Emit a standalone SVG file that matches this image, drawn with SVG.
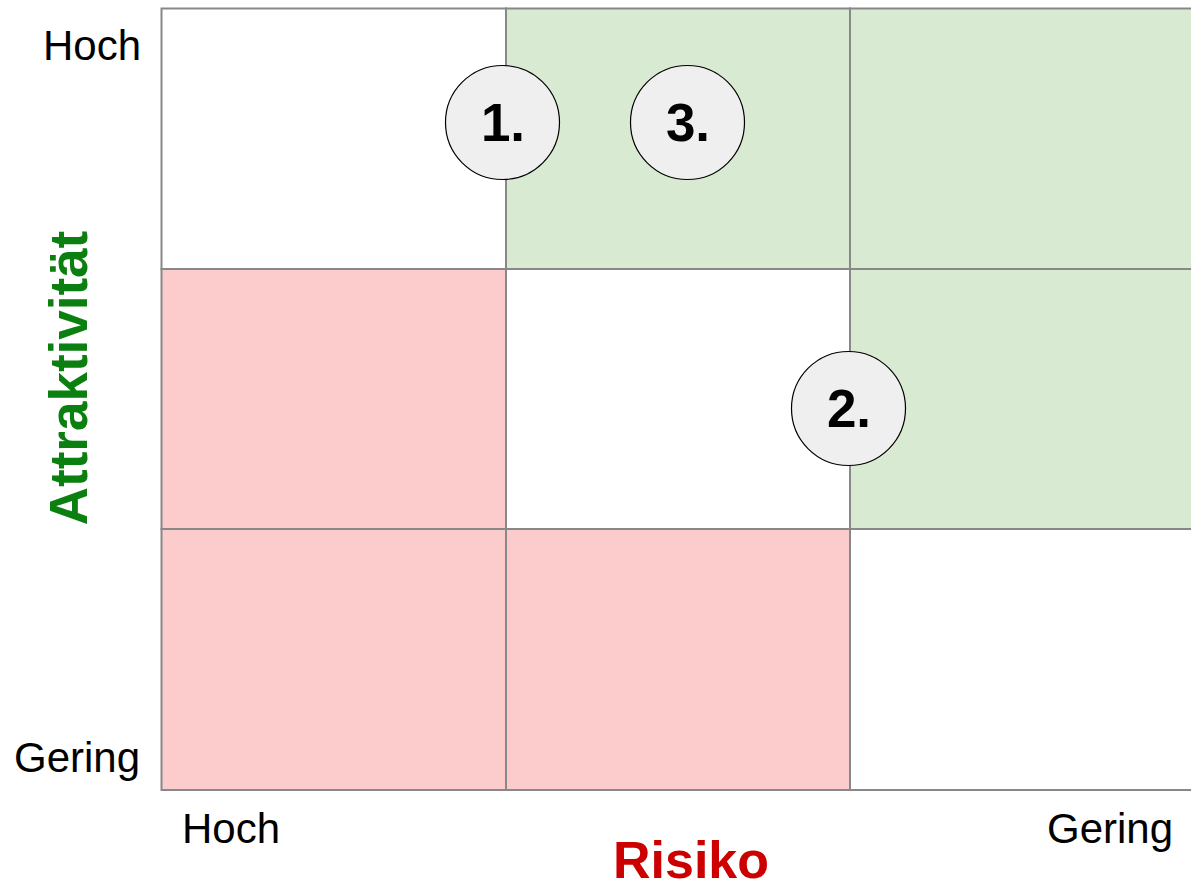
<svg xmlns="http://www.w3.org/2000/svg" width="1191" height="885" viewBox="0 0 1191 885">
<style>
.cell{stroke:#888888;stroke-width:2}
.g{fill:#d9ead3}.r{fill:#fccbcb}.w{fill:#ffffff}
.lbl{font-family:"Liberation Sans",Arial,sans-serif;font-size:42px;fill:#000}
.num{font-family:"Liberation Sans",Arial,sans-serif;font-size:53px;font-weight:bold;fill:#000;text-anchor:middle}
.circ{fill:#efefef;stroke:#000;stroke-width:1.2}
</style>
<rect width="1191" height="885" fill="#ffffff"/>
<g id="grid">
<rect class="cell w" x="161.5" y="8.5" width="344.5" height="260.5"/>
<rect class="cell g" x="506" y="8.5" width="344" height="260.5"/>
<rect class="cell g" x="850" y="8.5" width="360" height="260.5"/>
<rect class="cell r" x="161.5" y="269" width="344.5" height="260"/>
<rect class="cell w" x="506" y="269" width="344" height="260"/>
<rect class="cell g" x="850" y="269" width="360" height="260"/>
<rect class="cell r" x="161.5" y="529" width="344.5" height="261"/>
<rect class="cell r" x="506" y="529" width="344" height="261"/>
<rect class="cell w" x="850" y="529" width="360" height="261"/>
</g>
<g id="labels">
<text class="lbl" x="43" y="60">Hoch</text>
<text class="lbl" x="14" y="772">Gering</text>
<text class="lbl" x="182" y="843">Hoch</text>
<text class="lbl" x="1047" y="843">Gering</text>
<text x="691" y="878" font-family="'Liberation Sans',Arial,sans-serif" font-size="52" font-weight="bold" fill="#cc0000" text-anchor="middle">Risiko</text>
<text transform="translate(87,378) rotate(-90)" font-family="'Liberation Sans',Arial,sans-serif" font-size="53" font-weight="bold" fill="#0b8010" text-anchor="middle">Attraktivität</text>
</g>
<g id="node1">
<circle class="circ" cx="502.5" cy="122.5" r="57"/>
<text class="num" x="503" y="141">1.</text>
</g>
<g id="node3">
<circle class="circ" cx="687.5" cy="122.5" r="57"/>
<text class="num" x="688" y="141">3.</text>
</g>
<g id="node2">
<circle class="circ" cx="848.5" cy="408.5" r="57"/>
<text class="num" x="849" y="427">2.</text>
</g>
</svg>
